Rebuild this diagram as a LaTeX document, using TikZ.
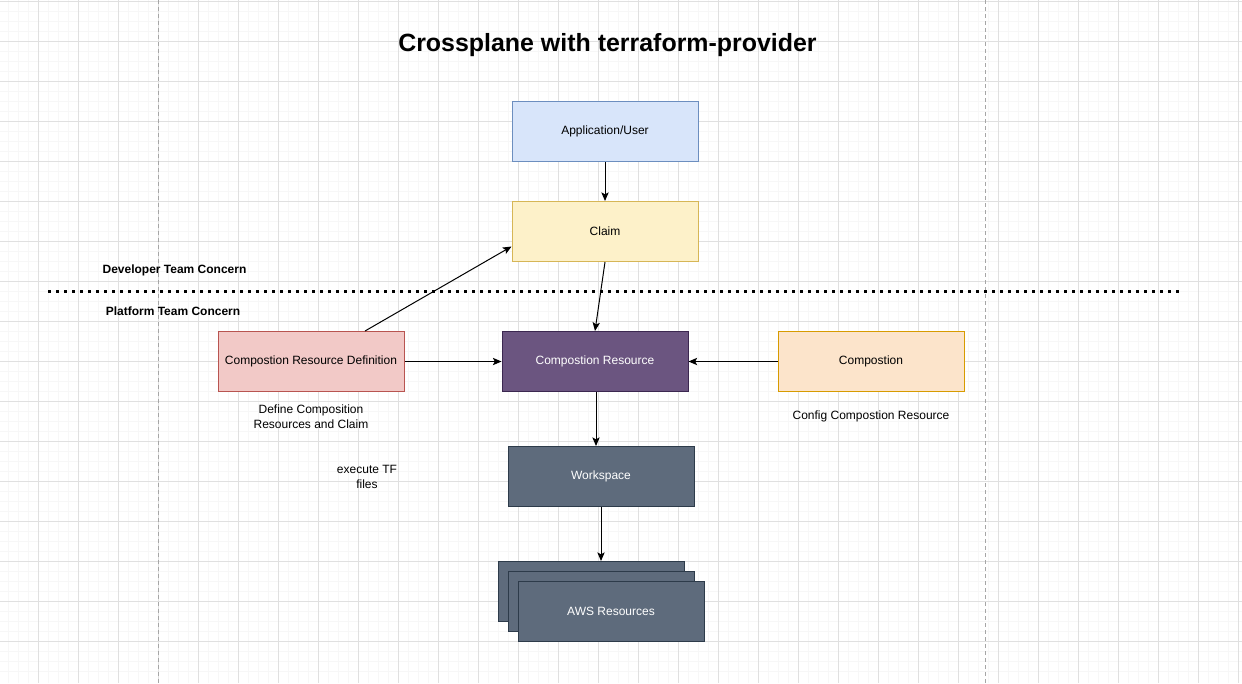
\documentclass[tikz,border=0pt]{standalone}
\usepackage{fontspec}
\setmainfont{Liberation Sans}
\usetikzlibrary{arrows.meta}

\definecolor{userfill}{HTML}{D8E5FA}
\definecolor{userline}{HTML}{6C8EBF}
\definecolor{claimfill}{HTML}{FDF1C9}
\definecolor{claimline}{HTML}{D6B656}
\definecolor{crdfill}{HTML}{F2C9C7}
\definecolor{crdline}{HTML}{B85450}
\definecolor{crfill}{HTML}{6B5580}
\definecolor{crline}{HTML}{3B2750}
\definecolor{compfill}{HTML}{FCE4CB}
\definecolor{compline}{HTML}{D79B00}
\definecolor{wsfill}{HTML}{5E6B7C}
\definecolor{wsline}{HTML}{2D3B4A}

\begin{document}
\begin{tikzpicture}[x=0.75pt, y=-0.75pt,
    txt/.style={font=\fontsize{9}{11}\selectfont, align=center},
    box/.style={draw, line width=0.75pt, minimum width=139.5pt, minimum height=45pt, inner sep=0pt, txt},
    darkbox/.style={box, text=white},
    link/.style={line width=0.75pt, -{Stealth[length=6.5pt, width=5.5pt, inset=1.5pt]}}]
    \useasboundingbox (0,0) rectangle (1242,683);
    \fill[white] (0,0) rectangle (1242,683);
    % grid
    \foreach \x in {8,18,...,1238} \draw[black!3, line width=0.75pt] (\x,0) -- (\x,683);
    \foreach \y in {1.3,11.3,...,681} \draw[black!3, line width=0.75pt] (0,\y) -- (1242,\y);
    \foreach \x in {38,78,...,1238} \draw[black!12, line width=0.75pt] (\x,0) -- (\x,683);
    \foreach \y in {1.3,41.3,...,681} \draw[black!12, line width=0.75pt] (0,\y) -- (1242,\y);
    \foreach \x in {158,985.5}
        \draw[black!35, line width=0.75pt, dash pattern=on 3pt off 2.25pt] (\x,0) -- (\x,683);

    \node[font=\fontsize{18.7}{22}\selectfont\bfseries] (title) at (607.5,45) {Crossplane with terraform-provider};

    % boxes
    \node[box, fill=userfill, draw=userline] (user) at (605,131.5) {Application/User};
    \node[box, fill=claimfill, draw=claimline] (claim) at (605,231.5) {Claim};
    \node[box, fill=crdfill, draw=crdline] (crd) at (311,361.5) {Compostion Resource Definition};
    \node[darkbox, fill=crfill, draw=crline] (cr) at (595,361.5) {Compostion Resource};
    \node[box, fill=compfill, draw=compline] (comp) at (871,361.5) {Compostion};
    \node[darkbox, fill=wsfill, draw=wsline] (ws) at (601,476.5) {Workspace};
    \node[darkbox, fill=wsfill, draw=wsline] (aws1) at (591,591.5) {};
    \node[darkbox, fill=wsfill, draw=wsline] (aws2) at (601,601.5) {};
    \node[darkbox, fill=wsfill, draw=wsline] (aws3) at (611,611.5) {AWS Resources};

    % separator
    \draw[line width=2.25pt, dash pattern=on 2.25pt off 3.75pt] (48,291) -- (1182,291);
    \node[txt, font=\fontsize{9}{11}\selectfont\bfseries] (dev) at (174.5,270.5) {Developer Team Concern};
    \node[txt, font=\fontsize{9}{11}\selectfont\bfseries] (plat) at (173,311.5) {Platform Team Concern};

    % notes
    \node[txt] (crdnote) at (311,417) {Define Composition\\Resources and Claim};
    \node[txt] (compnote) at (871,416) {Config Compostion Resource};
    \node[txt] (tfnote) at (367,477) {execute TF\\files};

    % links
    \draw[link] (user) -- (claim);
    \draw[link] (claim.south) -- (cr.north);
    \draw[link] ([xshift=40.5pt]crd.north) -- ([yshift=-11.25pt]claim.west);
    \draw[link] (crd) -- (cr);
    \draw[link] (comp) -- (cr);
    \draw[link] ([xshift=0.75pt]cr.south) -- ([xshift=0.75pt]cr.south |- ws.north);
    \draw[link] (ws.south) -- (ws.south |- aws1.north);
\end{tikzpicture}
\end{document}
